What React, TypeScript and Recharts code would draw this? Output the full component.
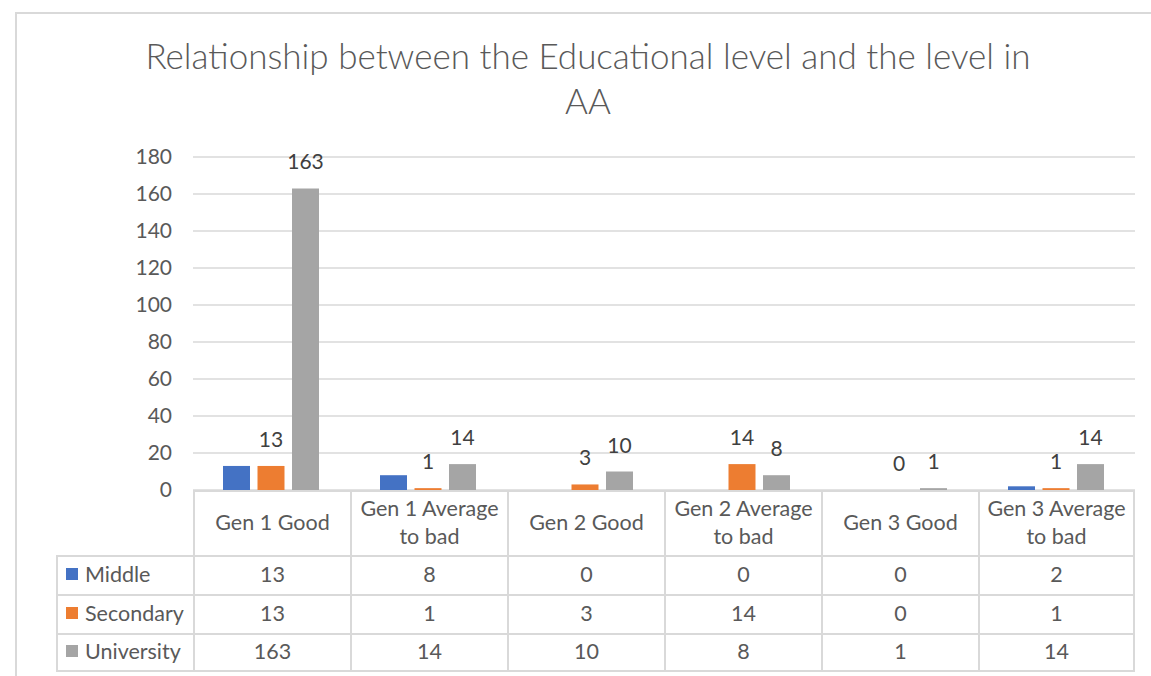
import React from "react";
import { BarChart, Bar, XAxis, YAxis, CartesianGrid, LabelList } from "recharts";

const categories = [
  "Gen 1 Good",
  "Gen 1 Average to bad",
  "Gen 2 Good",
  "Gen 2 Average to bad",
  "Gen 3 Good",
  "Gen 3 Average to bad",
];
const headerLines = [
  ["Gen 1 Good"],
  ["Gen 1 Average", "to bad"],
  ["Gen 2 Good"],
  ["Gen 2 Average", "to bad"],
  ["Gen 3 Good"],
  ["Gen 3 Average", "to bad"],
];
const middle = [13, 8, 0, 0, 0, 2];
const secondary = [13, 1, 3, 14, 0, 1];
const university = [163, 14, 10, 8, 1, 14];
const yTicks = [0, 20, 40, 60, 80, 100, 120, 140, 160, 180];

const seriesDefs = [
  { key: "Middle", name: "Middle", values: middle, color: "#4472C4", label: false },
  { key: "Secondary", name: "Secondary", values: secondary, color: "#ED7D31", label: true },
  { key: "University", name: "University", values: university, color: "#A5A5A5", label: true },
];

const data = categories.map((c, i) => ({
  name: c,
  Middle: middle[i],
  Secondary: secondary[i],
  University: university[i],
}));

const FONT = "Lato, 'Open Sans', sans-serif";
const TEXT = "#595959";
const LINE = "#d9d9d9";

const PLOT_LEFT = 193;
const PLOT_RIGHT = 1135;
const PLOT_TOP = 157;
const PLOT_BOTTOM = 490;
const COL_W = (PLOT_RIGHT - PLOT_LEFT) / categories.length;
const TABLE_LEFT = 56;
const HEADER_H = 65;
const ROW_H = 39;
const TABLE_FS = 21.5;

export default function App() {
  return (
    <div
      style={{
        position: "absolute",
        left: 0,
        top: 0,
        width: 1151,
        height: 676,
        background: "#fff",
        overflow: "hidden",
        fontFamily: FONT,
      }}
    >
      <div
        style={{
          position: "absolute",
          left: 15,
          top: 12,
          width: 1200,
          height: 700,
          borderLeft: `2px solid ${LINE}`,
          borderTop: `2px solid ${LINE}`,
        }}
      />
      <div
        style={{
          position: "absolute",
          left: 0,
          top: 33,
          width: 1176,
          textAlign: "center",
          fontSize: 35,
          fontWeight: 300,
          color: TEXT,
          lineHeight: "45px",
        }}
      >
        Relationship between the Educational level and the level in
        <br />
        AA
      </div>
      <div style={{ position: "absolute", left: 0, top: 0 }}>
        <BarChart
          width={1151}
          height={676}
          data={data}
          margin={{ top: PLOT_TOP, right: 1151 - PLOT_RIGHT, bottom: 676 - PLOT_BOTTOM, left: PLOT_LEFT - 60 }}
          barCategoryGap={30}
          barGap={7.5}
        >
          <CartesianGrid vertical={false} stroke={LINE} strokeWidth={1.5} />
          <XAxis dataKey="name" hide />
          <YAxis
            width={60}
            domain={[0, 180]}
            ticks={yTicks}
            axisLine={false}
            tickLine={false}
            tickSize={0}
            tickMargin={21}
            tick={{ fill: TEXT, fontSize: 21, fontFamily: FONT }}
            interval={0}
          />
          {seriesDefs.map((s) => (
            <Bar
              key={s.key}
              dataKey={s.key}
              name={s.name}
              fill={s.color}
              isAnimationActive={false}
              minPointSize={s.label ? 0.01 : 0}
            >
              {s.label ? (
                <LabelList
                  dataKey={s.key}
                  position="top"
                  offset={19}
                  fill="#404040"
                  fontSize={21}
                  fontFamily={FONT}
                />
              ) : null}
            </Bar>
          ))}
        </BarChart>
      </div>
      {/* data table */}
      <div style={{ position: "absolute", left: 0, top: 0, width: 1151, height: 676, pointerEvents: "none" }}>
        {headerLines.map((lines, i) => (
          <div
            key={"h" + i}
            style={{
              position: "absolute",
              left: PLOT_LEFT + i * COL_W,
              top: PLOT_BOTTOM,
              width: COL_W,
              height: HEADER_H,
              boxSizing: "border-box",
              borderLeft: `2px solid ${LINE}`,
              borderRight: i === headerLines.length - 1 ? `2px solid ${LINE}` : "none",
              borderTop: `2px solid ${LINE}`,
              display: "flex",
              flexDirection: "column",
              alignItems: "center",
              justifyContent: "center",
              paddingBottom: 4,
              color: TEXT,
              fontSize: TABLE_FS,
              lineHeight: "28px",
            }}
          >
            {lines.map((l, j) => (
              <div key={j}>{l}</div>
            ))}
          </div>
        ))}
        {seriesDefs.map((s, r) => (
          <React.Fragment key={"r" + r}>
            <div
              style={{
                position: "absolute",
                left: TABLE_LEFT,
                top: PLOT_BOTTOM + HEADER_H + r * ROW_H,
                width: PLOT_LEFT - TABLE_LEFT,
                height: ROW_H,
                boxSizing: "border-box",
                borderLeft: `2px solid ${LINE}`,
                borderTop: `2px solid ${LINE}`,
                borderBottom: r === seriesDefs.length - 1 ? `2px solid ${LINE}` : "none",
                display: "flex",
                alignItems: "center",
                paddingLeft: 8,
                paddingBottom: 3,
                color: TEXT,
                fontSize: TABLE_FS,
              }}
            >
              <span
                style={{ display: "inline-block", width: 12, height: 12, background: s.color, marginRight: 7 }}
              />
              {s.name}
            </div>
            {s.values.map((v, i) => (
              <div
                key={i}
                style={{
                  position: "absolute",
                  left: PLOT_LEFT + i * COL_W,
                  top: PLOT_BOTTOM + HEADER_H + r * ROW_H,
                  width: COL_W,
                  height: ROW_H,
                  boxSizing: "border-box",
                  borderLeft: `2px solid ${LINE}`,
                  borderRight: i === s.values.length - 1 ? `2px solid ${LINE}` : "none",
                  borderTop: `2px solid ${LINE}`,
                  borderBottom: r === seriesDefs.length - 1 ? `2px solid ${LINE}` : "none",
                  display: "flex",
                  alignItems: "center",
                  justifyContent: "center",
                  paddingBottom: 3,
                  color: TEXT,
                  fontSize: TABLE_FS,
                }}
              >
                {v}
              </div>
            ))}
          </React.Fragment>
        ))}
      </div>
    </div>
  );
}
